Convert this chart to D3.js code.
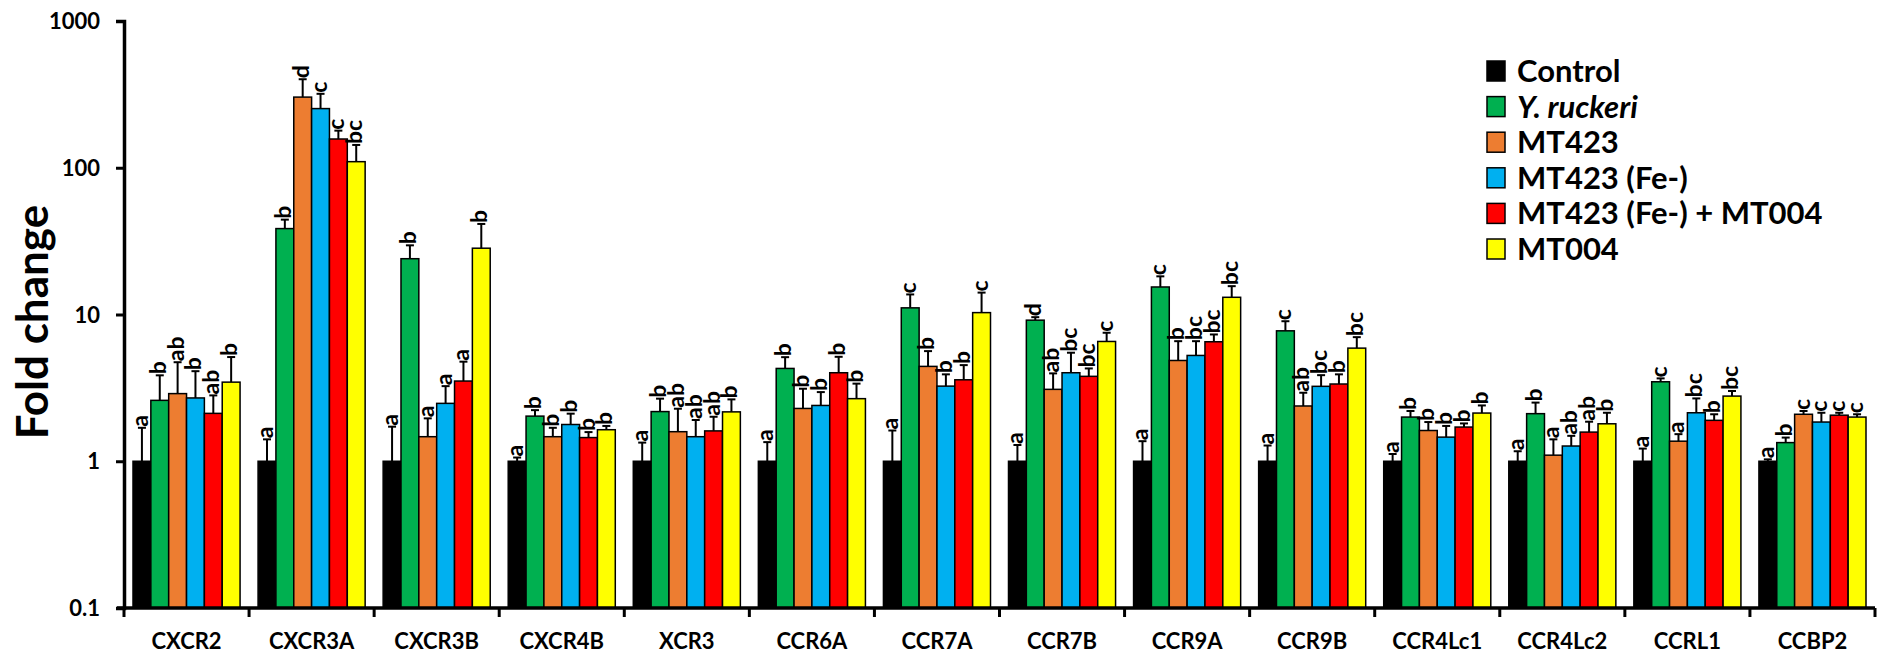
<!DOCTYPE html>
<html>
<head>
<meta charset="utf-8">
<script src="https://cdnjs.cloudflare.com/ajax/libs/d3/7.8.5/d3.min.js"></script>
<style>
  body { margin: 0; background: #fff; }
  text { font-family: Lato, "Open Sans", sans-serif; font-weight: bold; fill: #000; }
</style>
</head>
<body>
<script type="text/javascript">
var genes = ["CXCR2", "CXCR3A", "CXCR3B", "CXCR4B", "XCR3", "CCR6A", "CCR7A",
             "CCR7B", "CCR9A", "CCR9B", "CCR4Lc1", "CCR4Lc2", "CCRL1", "CCBP2"];
var series = ["Control", "Y. ruckeri", "MT423", "MT423 (Fe-)", "MT423 (Fe-) + MT004", "MT004"];
var colors = ["#000000", "#00B050", "#ED7D31", "#00B0F0", "#FF0000", "#FFFF00"];
var yTicks = [0.1, 1, 10, 100, 1000];

// mean fold change per gene
var control   = [1, 1, 1, 1, 1, 1, 1, 1, 1, 1, 1, 1, 1, 1];
var yruckeri  = [2.60, 38.5, 24.0, 2.03, 2.18, 4.29, 11.1, 9.15, 15.4, 7.74, 2.00, 2.11, 3.48, 1.34];
var mt423     = [2.89, 303, 1.47, 1.47, 1.59, 2.29, 4.43, 3.09, 4.86, 2.38, 1.62, 1.10, 1.37, 2.09];
var mt423fe   = [2.70, 253, 2.48, 1.78, 1.47, 2.40, 3.25, 4.01, 5.26, 3.24, 1.46, 1.27, 2.14, 1.85];
var mt423mt004 = [2.12, 157, 3.52, 1.45, 1.61, 4.01, 3.59, 3.79, 6.52, 3.36, 1.71, 1.58, 1.90, 2.06];
var mt004     = [3.46, 110, 28.3, 1.64, 2.17, 2.67, 10.3, 6.55, 13.1, 5.90, 2.13, 1.80, 2.78, 2.00];

// top of the error bar (mean + SD)
var controlUp   = [1.69, 1.41, 1.72, 1.06, 1.34, 1.35, 1.62, 1.29, 1.37, 1.28, 1.12, 1.17, 1.22, 1.03];
var yruckeriUp  = [3.85, 44.3, 29.6, 2.23, 2.67, 5.12, 13.7, 9.59, 18.2, 9.00, 2.20, 2.51, 3.67, 1.45];
var mt423Up     = [4.73, 401, 1.96, 1.69, 2.28, 3.12, 5.63, 3.97, 6.58, 2.93, 1.85, 1.41, 1.53, 2.20];
var mt423feUp   = [4.11, 319, 3.25, 2.11, 1.91, 2.96, 3.91, 5.49, 6.58, 3.86, 1.74, 1.49, 2.68, 2.14];
var mt423mt004Up = [2.81, 179, 4.77, 1.58, 2.01, 5.15, 4.52, 4.29, 7.31, 3.91, 1.81, 1.86, 2.09, 2.14];
var mt004Up     = [5.13, 143, 41.4, 1.74, 2.64, 3.38, 14.1, 7.51, 15.6, 7.01, 2.40, 2.14, 3.01, 2.09];

// significance letters
var controlSig   = ["a", "a", "a", "a", "a", "a", "a", "a", "a", "a", "a", "a", "a", "a"];
var yruckeriSig  = ["b", "b", "b", "b", "b", "b", "c", "d", "c", "c", "b", "b", "c", "b"];
var mt423Sig     = ["ab", "d", "a", "b", "ab", "b", "b", "ab", "b", "ab", "b", "a", "a", "c"];
var mt423feSig   = ["b", "c", "a", "b", "ab", "b", "b", "bc", "bc", "bc", "b", "ab", "bc", "c"];
var mt423mt004Sig = ["ab", "c", "a", "b", "ab", "b", "b", "bc", "bc", "b", "b", "ab", "b", "c"];
var mt004Sig     = ["b", "bc", "b", "b", "b", "b", "c", "c", "bc", "bc", "b", "b", "bc", "c"];

var means = [control, yruckeri, mt423, mt423fe, mt423mt004, mt004];
var uppers = [controlUp, yruckeriUp, mt423Up, mt423feUp, mt423mt004Up, mt004Up];
var sigs = [controlSig, yruckeriSig, mt423Sig, mt423feSig, mt423mt004Sig, mt004Sig];

var w = 1877, h = 657;
var padL = 124, padR = 1875, padT = 21, padB = 608;

var svg = d3.select("body").append("svg")
    .attr("width", w)
    .attr("height", h);

var y = d3.scaleLog().domain([0.1, 1000]).range([padB, padT]);
var x = d3.scaleBand().domain(genes).range([padL, padR]);
var xs = d3.scaleBand().domain(series).range([9, x.bandwidth() - 9]);

var rows = [];
genes.forEach(function(g, gi) {
    series.forEach(function(s, si) {
        rows.push({gene: g, s: s, si: si, v: means[si][gi], up: uppers[si][gi], sig: sigs[si][gi]});
    });
});

var bars = svg.append("g").selectAll("g")
    .data(rows)
    .enter()
    .append("g")
    .attr("transform", function(d) { return "translate(" + (x(d.gene) + xs(d.s)) + ",0)"; });

var bw = xs.bandwidth();

// error bars (upper only)
bars.append("line")
    .attr("x1", bw / 2).attr("x2", bw / 2)
    .attr("y1", function(d) { return y(d.v); })
    .attr("y2", function(d) { return y(d.up); })
    .attr("stroke", "#000").attr("stroke-width", 2);
bars.append("line")
    .attr("x1", bw / 2 - 4).attr("x2", bw / 2 + 4)
    .attr("y1", function(d) { return y(d.up); })
    .attr("y2", function(d) { return y(d.up); })
    .attr("stroke", "#000").attr("stroke-width", 2);

bars.append("rect")
    .attr("x", 0)
    .attr("y", function(d) { return y(d.v); })
    .attr("width", bw)
    .attr("height", function(d) { return padB - y(d.v); })
    .attr("fill", function(d) { return colors[d.si]; })
    .attr("stroke", "#000")
    .attr("stroke-width", 1.5);

bars.append("text")
    .attr("transform", function(d) { return "translate(" + (bw / 2 + 6) + "," + (y(d.up) - 1) + ") rotate(-90)"; })
    .style("font-size", "23px")
    .text(function(d) { return d.sig; });

// y axis
var yAxis = d3.axisLeft(y).tickValues(yTicks).tickFormat(function(d) { return d; }).tickSize(8).tickPadding(16);
var ya = svg.append("g").attr("transform", "translate(" + padL + ",0)").call(yAxis);
ya.select(".domain").attr("stroke-width", 3.5);
ya.selectAll(".tick line").attr("stroke-width", 3);
ya.selectAll(".tick text").style("font-size", "22px").attr("dy", "0.35em");

// x axis
var xa = svg.append("g").attr("transform", "translate(0," + padB + ")");
xa.append("line").attr("x1", padL - 7).attr("x2", padR).attr("stroke", "#000").attr("stroke-width", 3.5);
xa.selectAll(".sep")
    .data(genes.concat(["end"]))
    .enter()
    .append("line")
    .attr("x1", function(d, i) { return padL + i * x.bandwidth(); })
    .attr("x2", function(d, i) { return padL + i * x.bandwidth(); })
    .attr("y1", 0).attr("y2", 9)
    .attr("stroke", "#000").attr("stroke-width", 3);
xa.selectAll(".lab")
    .data(genes)
    .enter()
    .append("text")
    .attr("x", function(d) { return x(d) + x.bandwidth() / 2; })
    .attr("y", 41)
    .attr("text-anchor", "middle")
    .style("font-size", "22px")
    .text(function(d) { return d; });

svg.append("text")
    .attr("transform", "translate(48,322) rotate(-90)")
    .attr("text-anchor", "middle")
    .style("font-size", "44px")
    .text("Fold change");

// legend
var leg = svg.append("g").selectAll("g")
    .data(series)
    .enter()
    .append("g")
    .attr("transform", function(d, i) { return "translate(1487," + (71 + i * 35.6) + ")"; });
leg.append("rect")
    .attr("x", 0).attr("y", -10)
    .attr("width", 18).attr("height", 20)
    .attr("fill", function(d, i) { return colors[i]; })
    .attr("stroke", "#000").attr("stroke-width", 1.5);
leg.append("text")
    .attr("x", 30).attr("y", 11)
    .style("font-size", "31px")
    .style("font-style", function(d, i) { return i == 1 ? "italic" : "normal"; })
    .text(function(d) { return d; });
</script>
</body>
</html>
